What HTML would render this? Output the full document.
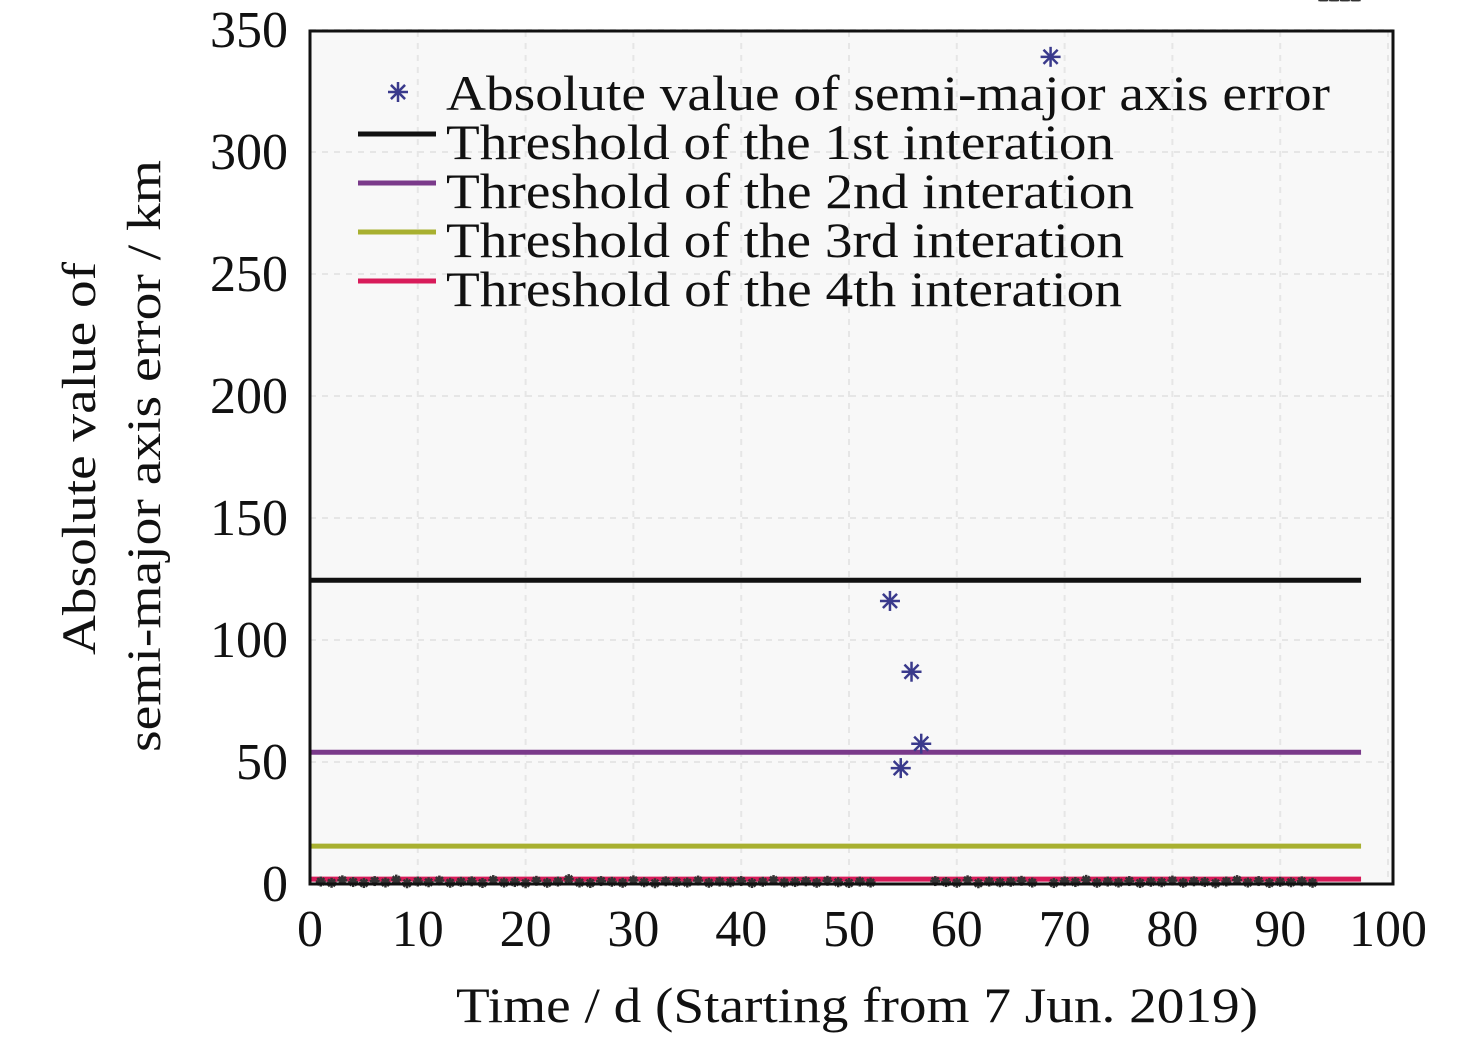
<!DOCTYPE html>
<html><head><meta charset="utf-8"><style>
body{margin:0;background:#fff;}
svg text{font-family:"Liberation Serif",serif;fill:#111;}
</style></head><body>
<svg width="1476" height="1041" id="c">
<rect x="310" y="31" width="1083" height="853" fill="#f8f8f8"/>
<g id="grid"></g><g id="ticks"></g><g id="series"></g>
<rect x="310" y="31" width="1083" height="853" fill="none" stroke="#111" stroke-width="3"/>
<text x="456" y="1022" font-size="50" textLength="802" lengthAdjust="spacingAndGlyphs">Time / d (Starting from 7 Jun. 2019)</text>
<text transform="translate(95,655) rotate(-90)" font-size="48" textLength="393" lengthAdjust="spacingAndGlyphs">Absolute value of</text>
<text transform="translate(160,752) rotate(-90)" font-size="48" textLength="592" lengthAdjust="spacingAndGlyphs">semi-major axis error / km</text>
<g id="legend"></g>
</svg>
<script>
const xTicks=[0,10,20,30,40,50,60,70,80,90,100];
const yTicks=[0,50,100,150,200,250,300,350];
const thresholdNames=["Threshold of the 1st interation","Threshold of the 2nd interation","Threshold of the 3rd interation","Threshold of the 4th interation"];
const thresholdValues=[124.5,54,15.5,2];
const thresholdColors=["#111","#7a3a8a","#a8b030","#d81b5a"];
const legendWidths=[668,688,678,676];
const lineEnd=97.5;
const errDays=[53.8,55.8,56.7,54.8,68.7,1,2,3,4,5,6,7,8,9,10,11,12,13,14,15,16,17,18,19,20,21,22,23,24,25,26,27,28,29,30,31,32,33,34,35,36,37,38,39,40,41,42,43,44,45,46,47,48,49,50,51,52,58,59,60,61,62,63,64,65,66,67,69,70,71,72,73,74,75,76,77,78,79,80,81,82,83,84,85,86,87,88,89,90,91,92,93,94,95,96,97];
const errValues=[116,87,57.5,47.5,339,1,0.5,1.5,0.8,0.4,1.2,0.6,1.8,0.3,1,0.7,1.4,0.5,0.9,1.1,0.4,1.6,0.6,0.8,0.3,1.3,0.5,1,2,0.6,0.4,1.2,0.9,0.5,1.5,0.7,0.3,1.1,0.8,0.6,1.4,0.5,1,0.7,1.2,0.4,0.9,1.6,0.6,0.8,1.1,0.5,1.3,0.7,0.4,1,0.6,1.2,0.8,0.5,1.5,0.3,1,0.7,0.9,1.3,0.6,0.4,1.1,0.8,1.7,0.5,1,0.6,1.2,0.4,0.9,0.7,1.4,0.5,1.1,0.8,0.3,1,1.6,0.6,1.2,0.4,0.9,0.7,1.1,0.5];
const X=v=>310+v*10.78, Y=v=>884-v*2.44;
const NS="http://www.w3.org/2000/svg";
function mk(p,t,a){const e=document.createElementNS(NS,t);for(const k in a)e.setAttribute(k,a[k]);p.appendChild(e);return e;}
const grid=document.getElementById('grid'),ticks=document.getElementById('ticks'),ser=document.getElementById('series'),leg=document.getElementById('legend');
xTicks.forEach(v=>{
 const g=mk(grid,'line',{x1:X(v),x2:X(v),y1:31,y2:884,stroke:'#e6e6e6','stroke-width':2,'stroke-dasharray':'6 6'});
 
 
 const t=mk(ticks,'text',{x:X(v),y:946,'font-size':52,'text-anchor':'middle'});t.textContent=v;
 
 
});
yTicks.forEach(v=>{
 const g=mk(grid,'line',{x1:310,x2:1393,y1:Y(v),y2:Y(v),stroke:'#e6e6e6','stroke-width':2,'stroke-dasharray':'6 6'});
 
 
 const t=mk(ticks,'text',{x:288,y:Y(v)+17,'font-size':52,'text-anchor':'end'});t.textContent=v;
 
 
});
thresholdValues.forEach((v,i)=>{
 const l=mk(ser,'line',{x1:310,x2:X(lineEnd),y1:Y(v),y2:Y(v),stroke:thresholdColors[i],'stroke-width':5});
 
 
});
function star(p,cx,cy,r,col){
 const g=mk(p,'g',{stroke:col,'stroke-width':2.5});
 for(let k=0;k<4;k++){const a=k*Math.PI/4;mk(g,'line',{x1:cx-r*Math.cos(a),y1:cy-r*Math.sin(a),x2:cx+r*Math.cos(a),y2:cy+r*Math.sin(a)});}
 return g;
}
errDays.forEach((d,i)=>{
 const big=errValues[i]>5;
 const s=star(ser,X(d),Y(errValues[i]),big?10:5,big?'#3a3a8c':'#333');
 
 
});
const ls=star(leg,398,92,10,'#3a3a8c');


let lt=mk(leg,'text',{x:446,y:110,'font-size':50,textLength:884,lengthAdjust:'spacingAndGlyphs'});lt.textContent="Absolute value of semi-major axis error";


thresholdNames.forEach((n,i)=>{
 const y=141+i*49;
 const l=mk(leg,'line',{x1:358,x2:436,y1:y-7,y2:y-7,stroke:thresholdColors[i],'stroke-width':5});
 
 
 const t=mk(leg,'text',{x:446,y:y+18,'font-size':50,textLength:legendWidths[i],lengthAdjust:'spacingAndGlyphs'});t.textContent=n;
 
 
});
</script>
</body></html>
